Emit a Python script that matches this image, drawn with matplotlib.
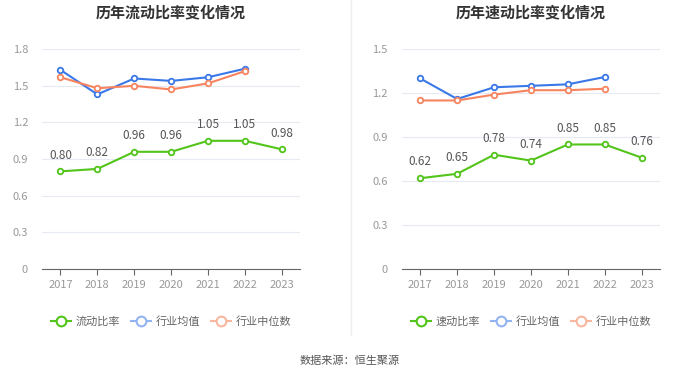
import matplotlib.pyplot as plt
from matplotlib.lines import Line2D

plt.rcParams['font.family'] = ['Noto Sans CJK SC', 'DejaVu Sans']

years = ['2017', '2018', '2019', '2020', '2021', '2022', '2023']

current_ratio = [0.80, 0.82, 0.96, 0.96, 1.05, 1.05, 0.98]
current_mean = [1.63, 1.43, 1.56, 1.54, 1.57, 1.64]
current_median = [1.57, 1.48, 1.50, 1.47, 1.52, 1.62]

quick_ratio = [0.62, 0.65, 0.78, 0.74, 0.85, 0.85, 0.76]
quick_mean = [1.30, 1.16, 1.24, 1.25, 1.26, 1.31]
quick_median = [1.15, 1.15, 1.19, 1.22, 1.22, 1.23]

green = '#52c41a'
blue = '#3a78e8'
orange = '#f7845e'

fig = plt.figure(figsize=(7, 3.78), dpi=100)


def draw(ax, title, main, mean, median, name, ymax, yticks):
    x = list(range(len(years)))
    ax.plot(x[:len(mean)], mean, color=blue, lw=1.5, marker='o', ms=4,
            mfc='white', mec=blue, mew=1.3, zorder=3)
    ax.plot(x[:len(median)], median, color=orange, lw=1.5, marker='o', ms=4,
            mfc='white', mec=orange, mew=1.3, zorder=3)
    ax.plot(x, main, color=green, lw=1.5, marker='o', ms=4,
            mfc='white', mec=green, mew=1.3, zorder=4)
    for xi, v in zip(x, main):
        ax.annotate(f'{v:.2f}', (xi, v), xytext=(0, 7), textcoords='offset points',
                    ha='center', va='bottom', fontsize=8.5, color='#555555')
    ax.set_xlim(-0.5, 6.5)
    ax.set_ylim(0, ymax)
    ax.set_yticks(yticks)
    ax.set_yticklabels(['0' if t == 0 else f'{t:.1f}' for t in yticks])
    ax.set_xticks(x)
    ax.set_xticklabels(years)
    ax.grid(axis='y', color='#e6eaf2', lw=0.8)
    ax.set_axisbelow(True)
    for s in ['top', 'right', 'left']:
        ax.spines[s].set_visible(False)
    ax.spines['bottom'].set_color('#666666')
    ax.tick_params(axis='y', length=0, labelsize=8, labelcolor='#999999', pad=10)
    ax.tick_params(axis='x', length=4, color='#666666', labelsize=8,
                   labelcolor='#999999')
    ax.set_title(title, fontsize=10.8, fontweight='bold', color='#333333', pad=23)
    handles = [
        Line2D([], [], color=green, lw=1.5, marker='o', ms=7, mfc='white', mec=green, mew=1.5),
        Line2D([], [], color='#92b4f2', lw=1.5, marker='o', ms=7, mfc='white', mec='#92b4f2', mew=1.5),
        Line2D([], [], color='#f9b79f', lw=1.5, marker='o', ms=7, mfc='white', mec='#f9b79f', mew=1.5),
    ]
    ax.legend(handles, [name, '行业均值', '行业中位数'], loc='upper center',
              bbox_to_anchor=(0.5, -0.17), ncol=3, frameon=False, fontsize=8,
              handlelength=1.8, handletextpad=0.4, columnspacing=1.0,
              labelcolor='#666666')


ax1 = fig.add_axes([0.06, 0.288, 0.369, 0.582])
draw(ax1, '历年流动比率变化情况', current_ratio, current_mean, current_median,
     '流动比率', 1.8, [0, 0.3, 0.6, 0.9, 1.2, 1.5, 1.8])

ax2 = fig.add_axes([0.574, 0.288, 0.369, 0.582])
draw(ax2, '历年速动比率变化情况', quick_ratio, quick_mean, quick_median,
     '速动比率', 1.5, [0, 0.3, 0.6, 0.9, 1.2, 1.5])

fig.add_artist(Line2D([0.501, 0.501], [0.115, 1.0], color='#eeeeee', lw=1))
fig.text(0.5, 0.045, '数据来源：恒生聚源', ha='center', va='center',
         fontsize=8, color='#555555')

fig.savefig('out.png', dpi=100, facecolor='white')
